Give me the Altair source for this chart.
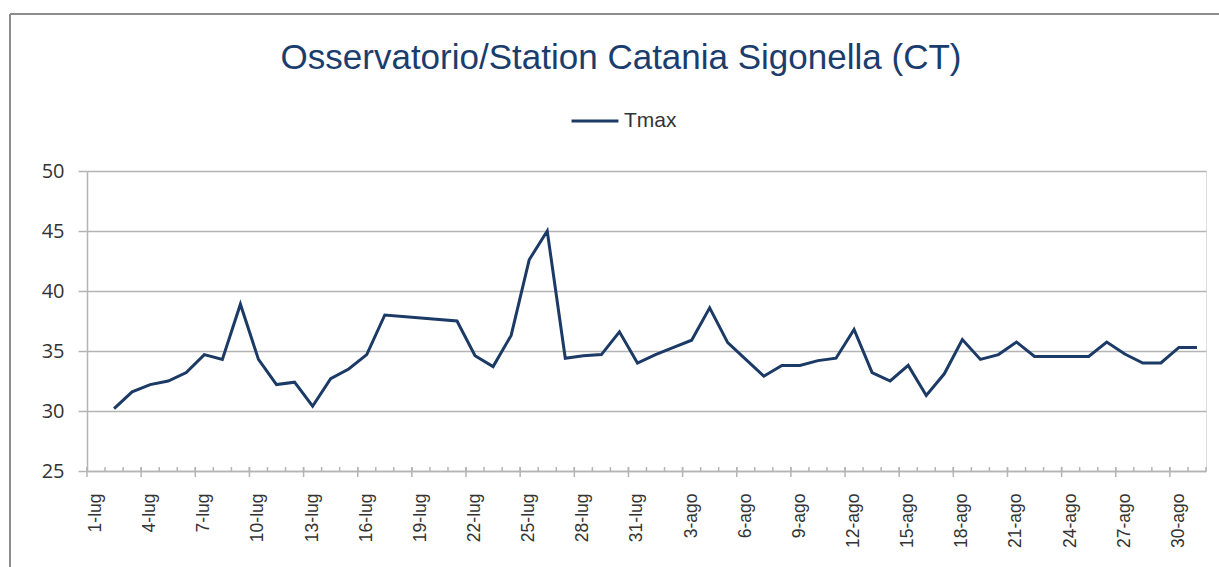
import altair as alt
import pandas as pd

# ---- data ----
days = [f"{d}-lug" for d in range(1, 32)] + [f"{d}-ago" for d in range(1, 32)]
tmax = [
    None, 30.2, 31.6, 32.2, 32.5, 33.2, 34.7, 34.3, 38.9, 34.3,
    32.2, 32.4, 30.4, 32.7, 33.5, 34.7, 38.0, None, None, None,
    37.5, 34.6, 33.7, 36.3, 42.6, 45.0, 34.4, 34.6, 34.7, 36.6,
    34.0,
    34.7, 35.3, 35.9, 38.6, 35.7, 34.3, 32.9, 33.8, 33.8, 34.2,
    34.4, 36.8, 33.2, 32.5, 33.8, 31.3, 33.1, 35.95, 34.3, 34.7,
    35.75, 34.55, 34.55, 34.55, 34.55, 35.75, 34.75, 34.0, 34.0, 35.3,
    35.3,
]
series_name = "Tmax"
y_ticks = [25, 30, 35, 40, 45, 50]
title_text = "Osservatorio/Station Catania Sigonella (CT)"

LINE = "#1b3a66"
GRID = "#b4b4b4"

W, H = 1119, 300
PAD_L, PAD_T = 87, 171

df = pd.DataFrame({"day": days, "Tmax": tmax, "series": series_name})
line_df = df.dropna(subset=["Tmax"])
tick_df = pd.DataFrame({"day": days, "idx": list(range(len(days)))})
tick_df["major"] = tick_df["idx"] % 3 == 0

xscale = alt.Scale(type="band", domain=days, paddingInner=0, paddingOuter=0)
yscale = alt.Scale(domain=[25, 50], nice=False, zero=False)

label_expr = "indexof(['" + "','".join(days[::3]) + "'], datum.value) >= 0 ? datum.value : ''"

line = alt.Chart(line_df).mark_line(strokeWidth=3, strokeJoin="miter").encode(
    x=alt.X("day:N", scale=xscale, bandPosition=0.5, sort=days,
            axis=alt.Axis(title=None, labelAngle=-90, labelExpr=label_expr,
                          labelFont="Liberation Sans", labelFontSize=17.5,
                          labelColor="#333333", labelPadding=22, tickSize=0,
                          ticks=False, grid=False, domainColor=GRID,
                          domainWidth=1.5, labelOverlap=False, labelBound=False)),
    y=alt.Y("Tmax:Q", scale=yscale,
            axis=alt.Axis(title=None, values=y_ticks, labelFont="Open Sans",
                          labelFontSize=20, labelColor="#333333",
                          labelPadding=14, tickSize=9, tickColor=GRID,
                          tickWidth=1.5, domainColor=GRID, domainWidth=1.5,
                          gridColor=GRID, gridWidth=1.5)),
    color=alt.Color("series:N", scale=alt.Scale(range=[LINE]),
                    legend=alt.Legend(title=None, orient="none", legendX=483,
                                      legendY=-75, symbolType="stroke",
                                      symbolSize=2200, symbolStrokeWidth=3,
                                      labelFont="Liberation Sans",
                                      labelFontSize=21, labelColor="#333333",
                                      labelOffset=4, padding=0)),
)

minor = alt.Chart(tick_df).mark_rule(color=GRID, strokeWidth=1.5).encode(
    x=alt.X("day:N", scale=xscale, bandPosition=0, sort=days),
    y=alt.value(H - 4), y2=alt.value(H),
)
minor_end = alt.Chart(tick_df).transform_filter(
    alt.datum.idx == len(days) - 1
).mark_rule(color=GRID, strokeWidth=1.5).encode(
    x=alt.X("day:N", scale=xscale, bandPosition=1, sort=days),
    y=alt.value(H - 4), y2=alt.value(H),
)
major = alt.Chart(tick_df).transform_filter(alt.datum.major).mark_rule(
    color=GRID, strokeWidth=1.5
).encode(
    x=alt.X("day:N", scale=xscale, bandPosition=0, sort=days),
    y=alt.value(H - 4), y2=alt.value(H + 6),
)

frame_data = alt.Data(values=[{"k": 1}])
frame_left = alt.Chart(frame_data).mark_rule(color="#8c8c8c", strokeWidth=2).encode(
    x=alt.value(10 - PAD_L), y=alt.value(14 - PAD_T), y2=alt.value(567 - PAD_T + 10)
)
frame_top = alt.Chart(frame_data).mark_rule(color="#8c8c8c", strokeWidth=2).encode(
    x=alt.value(10 - PAD_L), x2=alt.value(1219 - PAD_L + 10), y=alt.value(14 - PAD_T)
)

title = alt.Chart(alt.Data(values=[{"t": title_text}])).mark_text(
    font="Liberation Sans", fontSize=35, color="#1b3d6e", align="center",
    baseline="alphabetic"
).encode(text="t:N", x=alt.value(621 - PAD_L), y=alt.value(69 - PAD_T))

chart = alt.layer(frame_left, frame_top, title, minor, minor_end, major, line).properties(
    width=W, height=H,
    autosize=alt.AutoSizeParams(type="none"),
    padding={"left": PAD_L, "top": PAD_T, "right": 1219 - PAD_L - W,
             "bottom": 567 - PAD_T - H},
).configure_view(stroke=None).configure(background="white")

chart.save("out.html", embed_options={"renderer": "svg", "actions": False})
